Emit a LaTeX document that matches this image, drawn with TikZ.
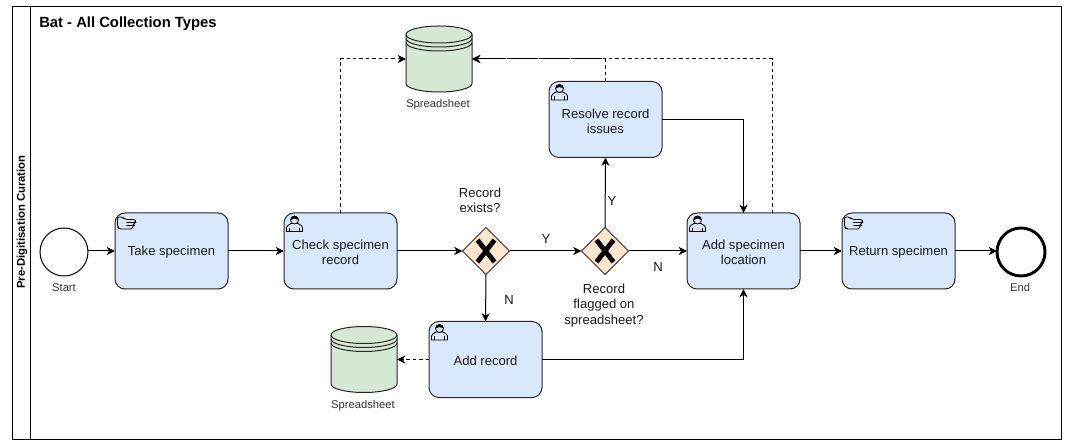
\documentclass[tikz,border=0pt]{standalone}
\usepackage{fontspec}
\setmainfont{Liberation Sans}
\usetikzlibrary{arrows.meta,shapes.geometric,calc}
\definecolor{taskblue}{HTML}{DAE8FC}
\definecolor{storegreen}{HTML}{D5E8D4}
\definecolor{gateorange}{HTML}{FFE6CC}
\definecolor{inkgrey}{HTML}{1A1A1A}
\newcommand{\tb}{\rule{0pt}{9.4pt}}
\tikzset{
  x=0.75pt,y=-0.75pt,
  every node/.style={font=\fontsize{9.8pt}{11.4pt}\selectfont,text=inkgrey},
  task/.style={draw=black!85,line width=0.75pt,fill=taskblue,rounded corners=7.5pt,minimum width=84.75pt,minimum height=57pt,inner sep=0pt,outer sep=0pt,align=center},
  gate/.style={diamond,aspect=1,draw=black!80,line width=0.75pt,fill=gateorange,minimum width=35.25pt,minimum height=35.25pt,inner sep=0pt,outer sep=0pt},
  ev/.style={circle,draw=black,fill=white,minimum size=36pt,inner sep=0pt,outer sep=0pt},
  storeanchor/.style={rectangle,minimum width=49.5pt,minimum height=49.5pt,inner sep=0pt,outer sep=0pt},
  small/.style={font=\fontsize{8.4pt}{10pt}\selectfont,text=black!80},
  lab/.style={align=center,inner sep=0pt},
  flow/.style={draw=black,line width=0.75pt,-{Stealth[length=6.2pt,width=6pt,inset=1.8pt]}},
  dflow/.style={flow,dash pattern=on 2.6pt off 2.2pt},
  gatecross/.style={draw=black,line width=3.6pt,line cap=butt},
  ic/.style={draw=black,line width=0.6pt,line join=round},
}
\newcommand{\usericon}[1]{%
  \begin{scope}[shift={(#1.north west)}]
    \draw[ic] (2.5,18.5) -- (2.5,14.5) .. controls (2.5,12.5) and (5,12) .. (7,10.5) -- (14,10.5) .. controls (16,12) and (18.5,12.5) .. (18.5,14.5) -- (18.5,18.5) -- cycle;
    \draw[ic] (5.5,18.5) -- (5.5,15) (15.5,18.5) -- (15.5,15);
    \draw[ic,fill=taskblue] (10.5,7) circle (4);
    \fill[black] (6.5,7) .. controls (6.5,1.5) and (14.5,1.5) .. (14.5,7) .. controls (12,5) and (9,5) .. (6.5,7) -- cycle;
  \end{scope}}
\newcommand{\handicon}[1]{%
  \begin{scope}[shift={(#1.north west)}]
    \draw[ic,rounded corners=1.5pt] (2.5,4) -- (8,4) -- (9.5,6.5) -- (20.5,6.5) -- (20.5,9.5) -- (19,9.5) -- (19,12.5) -- (17.5,12.5) -- (17.5,16) -- (4,16) -- (2.5,14) -- cycle;
    \draw[ic] (11,9.5) -- (19,9.5) (11,12.5) -- (17.5,12.5);
  \end{scope}}
\newcommand{\gatecrossmark}[1]{%
  \draw[gatecross] ([shift={(-8.5,-11)}]#1.center) -- ([shift={(8.5,11)}]#1.center);
  \draw[gatecross] ([shift={(8.5,-11)}]#1.center) -- ([shift={(-8.5,11)}]#1.center);}
\newcommand{\storedraw}[1]{%
  \begin{scope}[shift={(#1.center)}]
    \fill[storegreen] (-33,-24.5) arc[start angle=180,end angle=360,x radius=33,y radius=8.5] -- (33,24.5) arc[start angle=0,end angle=180,x radius=33,y radius=8.5] -- cycle;
    \draw[draw=black!85,line width=0.75pt] (-33,-24.5) arc[start angle=180,end angle=540,x radius=33,y radius=8.5];
    \draw[draw=black!85,line width=0.75pt] (-33,-24.5) -- (-33,24.5) arc[start angle=180,end angle=0,x radius=33,y radius=8.5] -- (33,-24.5);
    \draw[draw=black!85,line width=0.75pt] (-33,-20.5) arc[start angle=180,end angle=0,x radius=33,y radius=8.5];
    \draw[draw=black!85,line width=0.75pt] (-33,-16.5) arc[start angle=180,end angle=0,x radius=33,y radius=8.5];
  \end{scope}}
\begin{document}
\begin{tikzpicture}
\useasboundingbox (0,0) rectangle (1073,448);
\fill[white] (0,0) rectangle (1073,448);
% pool
\node[draw=black,line width=0.75pt,minimum width=786.75pt,minimum height=324pt,inner sep=0pt,outer sep=0pt] (pool) at (537,223) {};
\coordinate (laneT) at (30,7);
\coordinate (laneB) at (30,439);
\draw[black,line width=0.75pt] (laneT) -- (laneB);
\node[rotate=90,font=\fontsize{8.5pt}{10pt}\bfseries\selectfont,text=black,inner sep=0pt] (lanelabel) at (22,222) {Pre-Digitisation Curation};
\node[anchor=west,font=\fontsize{11.1pt}{13pt}\bfseries\selectfont,text=black,inner sep=0pt] (title) at (39,23.5) {Bat - All Collection Types};
% events
\node[ev,line width=0.75pt] (start) at (64,252) {};
\node[ev,line width=2.2pt] (end) at (1021,252) {};
\node[small,inner sep=0pt] (startlab) at (64,287.5) {Start};
\node[small,inner sep=0pt] (endlab) at (1020,287.5) {End};
% tasks
\node[task] (take) at (171.5,251) {\tb Take specimen};
\node[task] (check) at (340.5,251) {\tb Check specimen\\record};
\node[task] (resolve) at (605.5,119.5) {\tb Resolve record\\issues};
\node[task] (addrec) at (485.5,359.5) {\tb Add record};
\node[task] (addloc) at (743.5,251) {\tb Add specimen\\location};
\node[task] (return) at (898.5,251) {\tb Return specimen};
\handicon{take}
\usericon{check}
\usericon{resolve}
\usericon{addrec}
\usericon{addloc}
\handicon{return}
% gateways
\node[gate] (gw1) at (486,251) {};
\node[gate] (gw2) at (605,251) {};
\gatecrossmark{gw1}
\gatecrossmark{gw2}
% stores
\node[storeanchor] (store1) at (439,59) {};
\node[storeanchor] (store2) at (364,359.5) {};
\storedraw{store1}
\storedraw{store2}
\node[small,inner sep=0pt] (s1lab) at (438,105) {Spreadsheet};
\node[small,inner sep=0pt] (s2lab) at (363,406) {Spreadsheet};
% labels
\node[lab] (q1) at (480,200.5) {Record\\exists?};
\node[lab] (q2) at (604,305.5) {Record\\flagged on\\spreadsheet?};
\node[lab] (ly1) at (546,239.5) {Y};
\node[lab] (ly2) at (612,201) {Y};
\node[lab] (ln1) at (509,300) {N};
\node[lab] (ln2) at (658,267) {N};
% connectors
\draw[flow] (start.east |- take.west) -- (take.west);
\draw[flow] (take.east) -- (check.west);
\draw[flow] (check.east) -- (gw1.west);
\draw[flow] (gw1.east) -- (gw2.west);
\draw[flow] (gw2.east) -- (addloc.west);
\draw[flow] (gw2.north) -- (resolve.south);
\draw[flow] (gw1.south) -- (addrec.north);
\draw[flow] (resolve.east) -| (addloc.north);
\draw[flow] (addrec.east) -| (addloc.south);
\draw[flow] (addloc.east) -- (return.west);
\draw[flow] (return.east) -- (end.west |- return.east);
\coordinate (locout) at (772,213);
\coordinate (storeR) at (472,59);
\coordinate (storeL) at (406,59);
\coordinate (store2R) at (397,359.5);
\draw[dflow] (check.north) |- (storeL);
\draw[dflow] (resolve.north) |- (storeR);
\draw[dflow] (locout) |- (storeR);
\draw[dflow] (addrec.west) -- (store2R);
\end{tikzpicture}
\end{document}
